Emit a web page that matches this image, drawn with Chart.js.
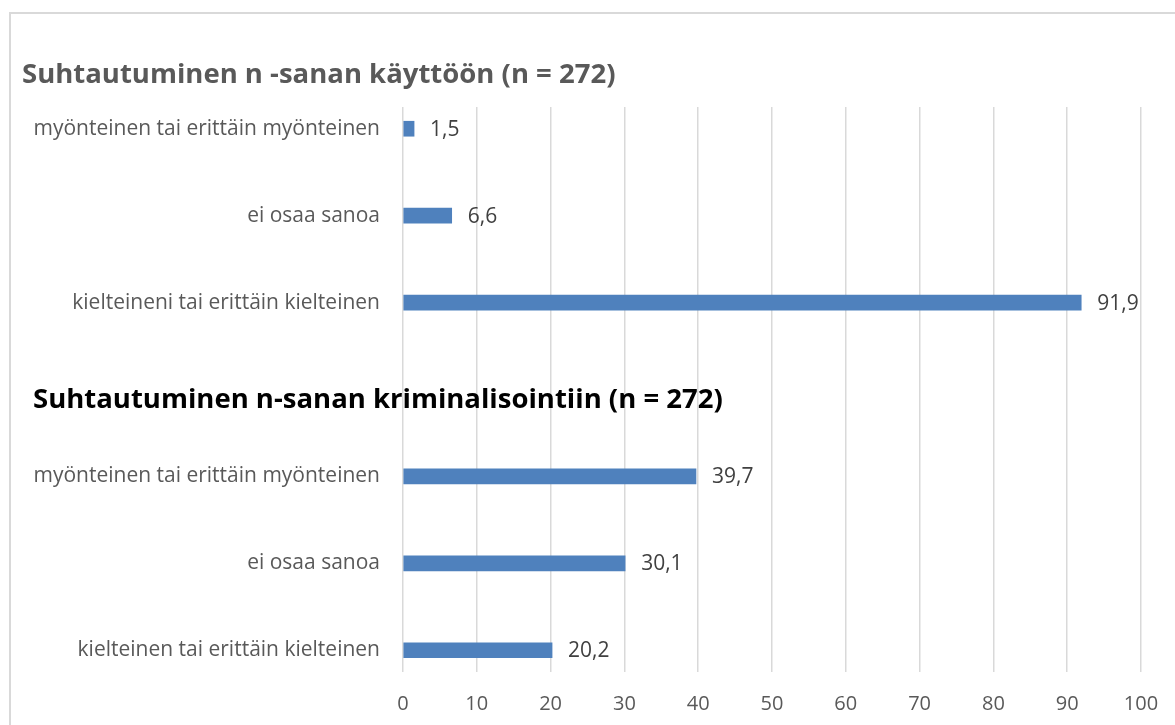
<!DOCTYPE html>
<html>
<head>
<meta charset="utf-8">
<script src="https://cdn.jsdelivr.net/npm/chart.js@4.4.1/dist/chart.umd.min.js"></script>
<style>
  html, body { margin: 0; padding: 0; background: #fff; overflow: hidden; }
  #frame { position: absolute; left: 9px; top: 12px; width: 1200px; height: 800px; border: 2px solid #d9d9d9; }
  #chart { position: absolute; left: 0; top: 0; }
</style>
</head>
<body>
<div id="frame"></div>
<canvas id="chart" width="1175" height="725"></canvas>
<script>
// ===================================
// DATA
// ===================================
const categories = [
  "myönteinen tai erittäin myönteinen",
  "ei osaa sanoa",
  "kielteineni tai erittäin kielteinen",
  "",
  "myönteinen tai erittäin myönteinen",
  "ei osaa sanoa",
  "kielteinen tai erittäin kielteinen"
];
const values = [1.5, 6.6, 91.9, null, 39.7, 30.1, 20.2];
const xTicks = [0, 10, 20, 30, 40, 50, 60, 70, 80, 90, 100];

const titleTop = "Suhtautuminen n -sanan käyttöön (n = 272)";
const titleMiddle = "Suhtautuminen n-sanan kriminalisointiin (n = 272)";
const middleRow = 3; // tyhjä rivi, jonka kohdalle toinen otsikko tulee

const FONT = "'Open Sans', sans-serif";

// ===================================
// PLUGINS
// ===================================

// arvot palkkien perään, suomalaisella desimaalipilkulla
const valueLabels = {
  id: "valueLabels",
  afterDatasetsDraw(chart) {
    const ctx = chart.ctx;
    const meta = chart.getDatasetMeta(0);
    const data = chart.data.datasets[0].data;
    ctx.save();
    ctx.font = "21px " + FONT;
    ctx.fillStyle = "#404040";
    ctx.textAlign = "left";
    ctx.textBaseline = "middle";
    meta.data.forEach((bar, i) => {
      const v = data[i].x;
      ctx.fillText(v.toFixed(1).replace(".", ","), bar.x + 16, bar.y + 1);
    });
    ctx.restore();
  }
};

// kaksi otsikkoa: ylin ja tyhjän rivin kohdalle
const sectionTitles = {
  id: "sectionTitles",
  afterDraw(chart) {
    const ctx = chart.ctx;
    const y = chart.scales.y;
    ctx.save();
    ctx.textAlign = "left";
    ctx.textBaseline = "middle";

    ctx.font = "bold 27.5px " + FONT;
    ctx.fillStyle = "#595959";
    ctx.fillText(titleTop, 22, 75);

    ctx.font = "bold 27.5px " + FONT;
    ctx.fillStyle = "#000000";
    ctx.fillText(titleMiddle, 33, y.getPixelForValue(middleRow) + 11);
    ctx.restore();
  }
};

// ===================================
// CHART
// ===================================
const points = values
  .map((v, i) => ({ x: v, y: i }))
  .filter(p => p.x !== null);

new Chart(document.getElementById("chart"), {
  type: "bar",
  data: {
    datasets: [{
      data: points,
      backgroundColor: "#4f81bd",
      borderWidth: 0,
      barThickness: 15
    }]
  },
  options: {
    indexAxis: "y",
    responsive: false,
    animation: false,
    layout: { padding: { top: 107, right: 34, bottom: 0, left: 0 } },
    plugins: {
      legend: { display: false },
      title: { display: false },
      tooltip: { enabled: false }
    },
    scales: {
      x: {
        type: "linear",
        position: "bottom",
        min: 0,
        max: 100,
        afterBuildTicks: scale => { scale.ticks = xTicks.map(v => ({ value: v })); },
        afterFit: scale => {
          scale.height = 53;
          scale.paddingLeft = 0;
          scale.paddingRight = 0;
        },
        grid: { color: "#d9d9d9", lineWidth: 1.5, drawTicks: false },
        border: { display: false },
        ticks: { color: "#595959", font: { family: FONT, size: 20 }, padding: 20 }
      },
      y: {
        type: "linear",
        reverse: true,
        offset: false,
        min: -0.25,
        max: 6.25,
        afterBuildTicks: scale => { scale.ticks = categories.map((c, i) => ({ value: i })); },
        afterFit: scale => { scale.width = 403; },
        grid: { display: false },
        border: { display: false },
        ticks: {
          autoSkip: false,
          color: "#595959",
          font: { family: FONT, size: 21 },
          padding: 15,
          callback: v => categories[v]
        }
      }
    }
  },
  plugins: [valueLabels, sectionTitles]
});
</script>
</body>
</html>
